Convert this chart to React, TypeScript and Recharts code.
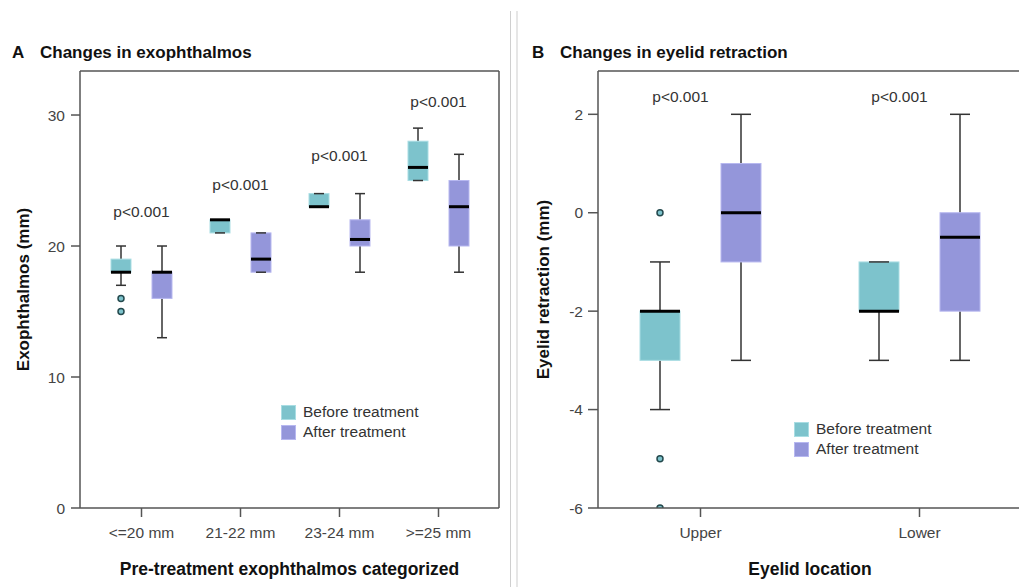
import React from 'react';
import { ComposedChart, Bar, XAxis, YAxis, Legend, ReferenceDot } from 'recharts';

const FONT = '"Liberation Sans", Arial, Helvetica, sans-serif';
const TEAL = '#7dc3cc';
const TEAL_EDGE = '#a9dde3';
const PURPLE = '#9496da';
const PURPLE_EDGE = '#b7b8f0';
const AXIS = '#555';

// box stats are [min, q1, median, q3, max]
const exoCategories = ['<=20 mm', '21-22 mm', '23-24 mm', '>=25 mm'];
const exoBefore = [
  [17, 18, 18, 19, 20],
  [21, 21, 22, 22, 22],
  [23, 23, 23, 24, 24],
  [25, 25, 26, 28, 29],
];
const exoAfter = [
  [13, 16, 18, 18, 20],
  [18, 18, 19, 21, 21],
  [18, 20, 20.5, 22, 24],
  [18, 20, 23, 25, 27],
];
const exoBeforeOutliers = [[16, 15], [], [], []];
const exoAfterOutliers = [[], [], [], []];
const exoPValues = ['p<0.001', 'p<0.001', 'p<0.001', 'p<0.001'];
const exoPAt = [22.6, 24.7, 26.9, 31];
const exoTicks = [0, 10, 20, 30];

const lidCategories = ['Upper', 'Lower'];
const lidBefore = [
  [-4, -3, -2, -2, -1],
  [-3, -2, -2, -1, -1],
];
const lidAfter = [
  [-3, -1, 0, 1, 2],
  [-3, -2, -0.5, 0, 2],
];
const lidBeforeOutliers = [[0, -5, -6], []];
const lidAfterOutliers = [[], []];
const lidPValues = ['p<0.001', 'p<0.001'];
const lidPAt = [2.36, 2.36];
const lidTicks = [-6, -4, -2, 0, 2];

const legendItems = [
  { label: 'Before treatment', color: TEAL, edge: TEAL_EDGE },
  { label: 'After treatment', color: PURPLE, edge: PURPLE_EDGE },
];

function makeRows(cats: string[], before: number[][], after: number[][], bOut: number[][], aOut: number[][]) {
  return cats.map((name, i) => ({
    name,
    before: before[i],
    after: after[i],
    beforeRange: [before[i][0], before[i][4]],
    afterRange: [after[i][0], after[i][4]],
    beforeOut: bOut[i],
    afterOut: aOut[i],
  }));
}

const exoRows = makeRows(exoCategories, exoBefore, exoAfter, exoBeforeOutliers, exoAfterOutliers);
const lidRows = makeRows(lidCategories, lidBefore, lidAfter, lidBeforeOutliers, lidAfterOutliers);

// draws whiskers, box, median and outliers inside the bar's own range
function boxShape(key: 'before' | 'after', fill: string, edge: string) {
  return (props: any) => {
    const { x, y, width, height, payload } = props;
    const s: number[] = payload[key];
    const out: number[] = payload[key + 'Out'] || [];
    const hi = s[4];
    const lo = s[0];
    const px = (v: number) => y + ((hi - v) / (hi - lo)) * height;
    const cx = x + width / 2;
    const cap = width / 4;
    return (
      <g>
        <line x1={cx} x2={cx} y1={px(s[4])} y2={px(s[3])} stroke="#333" strokeWidth={1.5} />
        <line x1={cx} x2={cx} y1={px(s[1])} y2={px(s[0])} stroke="#333" strokeWidth={1.5} />
        <rect x={x} y={px(s[3])} width={width} height={px(s[1]) - px(s[3])} fill={fill} stroke={edge} strokeWidth={1} />
        <line x1={cx - cap} x2={cx + cap} y1={px(s[4])} y2={px(s[4])} stroke="#333" strokeWidth={1.5} />
        <line x1={cx - cap} x2={cx + cap} y1={px(s[0])} y2={px(s[0])} stroke="#333" strokeWidth={1.5} />
        <line x1={x} x2={x + width} y1={px(s[2])} y2={px(s[2])} stroke="#000" strokeWidth={3} />
        {out.map((v, i) => (
          <circle key={i} cx={cx} cy={px(v)} r={3} fill={fill} stroke="#24494d" strokeWidth={1.5} />
        ))}
      </g>
    );
  };
}

const yLabel = (text: string, cx: number) => (props: any) => {
  const vb = props.viewBox;
  const cy = vb.y + vb.height / 2;
  return (
    <text x={cx} y={cy} transform={`rotate(-90 ${cx} ${cy})`} textAnchor="middle" dominantBaseline="central"
      fill="#111" fontSize={17} fontWeight="bold" fontFamily={FONT}>
      {text}
    </text>
  );
};

const xLabel = (text: string) => (props: any) => {
  const vb = props.viewBox;
  return (
    <text x={vb.x + vb.width / 2} y={vb.y + 61} textAnchor="middle" dominantBaseline="central"
      fill="#111" fontSize={17.5} fontWeight="bold" fontFamily={FONT}>
      {text}
    </text>
  );
};

const pLabel = (text: string, dx: number) => (props: any) => {
  const vb = props.viewBox;
  return (
    <text x={vb.x + vb.width / 2 + dx} y={vb.y + vb.height / 2} textAnchor="middle" dominantBaseline="central"
      fill="#333" fontSize={15.5} fontFamily={FONT}>
      {text}
    </text>
  );
};

function LegendBox() {
  return (
    <div style={{ fontFamily: FONT, fontSize: 15.5, color: '#333' }}>
      {legendItems.map((it) => (
        <div key={it.label} style={{ display: 'flex', alignItems: 'center', height: 20, whiteSpace: 'nowrap' }}>
          <span style={{ display: 'inline-block', width: 13, height: 13, background: it.color, border: `1px solid ${it.edge}`, marginRight: 7 }} />
          <span>{it.label}</span>
        </div>
      ))}
    </div>
  );
}

const tickStyle = { fill: '#444', fontSize: 15.5, fontFamily: FONT };
const lineStyle = { stroke: AXIS, strokeWidth: 1.5 };

function Title({ left, letter, text }: { left: number; letter: string; text: string }) {
  return (
    <div style={{ position: 'absolute', left, top: 43, lineHeight: '20px', fontFamily: FONT, fontSize: 17, fontWeight: 'bold', color: '#111', whiteSpace: 'nowrap' }}>
      <span style={{ display: 'inline-block', width: 28 }}>{letter}</span>
      <span>{text}</span>
    </div>
  );
}

export default function App() {
  return (
    <div style={{ position: 'absolute', left: 0, top: 0, width: 1019, height: 587, overflow: 'hidden', background: '#fff' }}>
      <div style={{ position: 'absolute', left: 510, top: 11, width: 1, height: 576, background: '#cfcfcf' }} />
      <div style={{ position: 'absolute', left: 516, top: 11, width: 2, height: 576, background: '#e6e6e6' }} />

      <div style={{ position: 'absolute', left: 0, top: 0 }}>
        <ComposedChart width={510} height={587} data={exoRows} margin={{ top: 70, right: 10, bottom: 0, left: 0 }}
          barSize={20} barGap={21}>
          <XAxis dataKey="name" height={79} padding={{ left: 12, right: 11 }} tick={tickStyle} tickSize={9} tickMargin={10}
            axisLine={lineStyle} tickLine={lineStyle} label={xLabel('Pre-treatment exophthalmos categorized')} />
          <XAxis xAxisId="top" orientation="top" dataKey="name" height={1} tick={false} tickLine={false} axisLine={lineStyle} />
          <YAxis domain={[0, 33.36]} ticks={exoTicks} allowDataOverflow width={80} tick={tickStyle} tickSize={9} tickMargin={6}
            axisLine={lineStyle} tickLine={lineStyle} label={yLabel('Exophthalmos (mm)', 23)} />
          <YAxis yAxisId="right" orientation="right" domain={[0, 1]} width={1} tick={false} tickLine={false} axisLine={lineStyle} />
          <Bar dataKey="beforeRange" fill={TEAL} shape={boxShape('before', TEAL, TEAL_EDGE)} isAnimationActive={false} />
          <Bar dataKey="afterRange" fill={PURPLE} shape={boxShape('after', PURPLE, PURPLE_EDGE)} isAnimationActive={false} />
          {exoCategories.map((c, i) => (
            <ReferenceDot key={c} x={c} y={exoPAt[i]} r={1} fill="none" stroke="none" label={pLabel(exoPValues[i], 0)} />
          ))}
          <Legend layout="horizontal" verticalAlign="middle" align="center" content={<LegendBox />}
            wrapperStyle={{ top: 402, left: 281, width: 'auto', height: 'auto' }} />
        </ComposedChart>
      </div>

      <div style={{ position: 'absolute', left: 510, top: 0 }}>
        <ComposedChart width={512} height={587} data={lidRows} margin={{ top: 70, right: 0, bottom: 0, left: 0 }}
          barSize={40} barGap={41}>
          <XAxis dataKey="name" height={79} padding={{ left: -7, right: -7 }} tick={tickStyle} tickSize={9} tickMargin={10}
            axisLine={lineStyle} tickLine={lineStyle} label={xLabel('Eyelid location')} />
          <XAxis xAxisId="top" orientation="top" dataKey="name" height={1} tick={false} tickLine={false} axisLine={lineStyle} />
          <YAxis domain={[-6, 2.88]} ticks={lidTicks} allowDataOverflow width={88} tick={tickStyle} tickSize={10} tickMargin={5}
            axisLine={lineStyle} tickLine={lineStyle} label={yLabel('Eyelid retraction (mm)', 33)} />
          <Bar dataKey="beforeRange" fill={TEAL} shape={boxShape('before', TEAL, TEAL_EDGE)} isAnimationActive={false} />
          <Bar dataKey="afterRange" fill={PURPLE} shape={boxShape('after', PURPLE, PURPLE_EDGE)} isAnimationActive={false} />
          {lidCategories.map((c, i) => (
            <ReferenceDot key={c} x={c} y={lidPAt[i]} r={1} fill="none" stroke="none" label={pLabel(lidPValues[i], -20)} />
          ))}
          <Legend layout="horizontal" verticalAlign="middle" align="center" content={<LegendBox />}
            wrapperStyle={{ top: 419, left: 284, width: 'auto', height: 'auto' }} />
        </ComposedChart>
      </div>

      <Title left={12} letter="A" text="Changes in exophthalmos" />
      <Title left={532} letter="B" text="Changes in eyelid retraction" />
    </div>
  );
}
